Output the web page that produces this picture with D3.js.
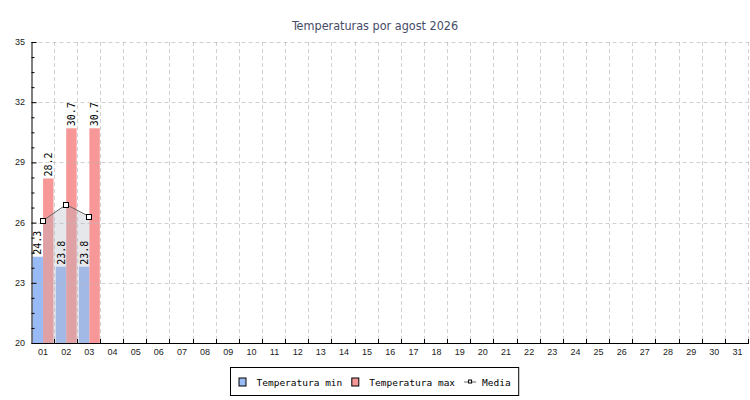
<!DOCTYPE html>
<html>
<head>
<meta charset="utf-8">
<script src="https://cdn.jsdelivr.net/npm/d3@7"></script>
<style>
	body { margin: 0; background: #fff; }
	svg { display: block; }
</style>
</head>
<body>
<div id="chart"></div>
<script>
	// Data
	const days = ['01', '02', '03', '04', '05', '06', '07', '08', '09', '10', '11', '12', '13', '14', '15', '16',
		'17', '18', '19', '20', '21', '22', '23', '24', '25', '26', '27', '28', '29', '30', '31'];
	const tempMin = [24.3, 23.8, 23.8];
	const tempMax = [28.2, 30.7, 30.7];
	const media = [26.1, 26.9, 26.3];
	const yTicks = [20, 23, 26, 29, 32, 35];
	const yMinor = [20.75, 21.5, 22.25, 23.75, 24.5, 25.25, 26.75, 27.5, 28.25, 29.75, 30.5, 31.25, 32.75, 33.5, 34.25];
	const seriesNames = ['Temperatura min', 'Temperatura max', 'Media'];

	const W = 750, H = 400;
	const margin = { top: 42, right: 1, bottom: 57, left: 31.5 };

	const colors = { min: '#99bbf5', max: '#f79797' };
	const monoFont = '"DejaVu Sans Mono", "Liberation Mono", monospace';
	const sansFont = '"Liberation Sans", "DejaVu Sans", sans-serif';

	const svg = d3.select('#chart')
		.append('svg')
		.attr('width', W)
		.attr('height', H);

	// Title
	svg.append('text')
		.attr('x', W / 2)
		.attr('y', 29.5)
		.attr('text-anchor', 'middle')
		.style('font-family', '"DejaVu Sans Condensed", "DejaVu Sans", sans-serif')
		.style('font-size', '12.5px')
		.style('fill', '#464c68')
		.text('Temperaturas por agost 2026');

	let xScale = d3.scaleBand()
		.domain(days)
		.range([margin.left, W - margin.right])
		.padding(0);

	let yScale = d3.scaleLinear()
		.domain([20, 35])
		.range([H - margin.bottom, margin.top]);

	let subScale = d3.scaleBand()
		.domain(['min', 'max'])
		.range([0, xScale.bandwidth()])
		.paddingInner(0)
		.paddingOuter(0.11);

	const base = yScale(20);

	// Bars
	let bars = svg.append('g').attr('class', 'bars');
	tempMin.forEach((v, i) => {
		let x0 = xScale(days[i]);
		bars.append('rect')
			.attr('x', x0 + subScale('min'))
			.attr('y', yScale(v))
			.attr('width', subScale.bandwidth())
			.attr('height', base - yScale(v))
			.style('fill', colors.min);
		bars.append('rect')
			.attr('x', x0 + subScale('max'))
			.attr('y', yScale(tempMax[i]))
			.attr('width', subScale.bandwidth())
			.attr('height', base - yScale(tempMax[i]))
			.style('fill', colors.max);
	});

	// Media area + line
	const mx = (d, i) => xScale(days[i]) + xScale.bandwidth() / 2;

	let area = d3.area()
		.x(mx)
		.y0(base)
		.y1(d => yScale(d));

	let line = d3.line()
		.x(mx)
		.y(d => yScale(d));

	svg.append('path')
		.datum(media)
		.attr('d', area)
		.style('fill', 'rgb(180,183,195)')
		.style('fill-opacity', 0.33);

	// Grid (drawn over the bars, as in the reference)
	let grid = svg.append('g').attr('class', 'grid')
		.style('stroke', '#b8b8b8')
		.style('stroke-opacity', 0.65)
		.style('stroke-dasharray', '4,3');

	grid.selectAll('line.h')
		.data(yTicks.slice(1))
		.enter()
		.append('line')
		.attr('x1', margin.left)
		.attr('x2', W - margin.right)
		.attr('y1', d => Math.round(yScale(d)) + 0.5)
		.attr('y2', d => Math.round(yScale(d)) + 0.5);

	grid.selectAll('line.v')
		.data(days)
		.enter()
		.append('line')
		.attr('x1', d => Math.round(xScale(d) + xScale.bandwidth()) - 0.5)
		.attr('x2', d => Math.round(xScale(d) + xScale.bandwidth()) - 0.5)
		.attr('y1', margin.top)
		.attr('y2', base);

	svg.append('path')
		.datum(media)
		.attr('d', line)
		.style('fill', 'none')
		.style('stroke', '#666')
		.style('stroke-width', 1);

	svg.selectAll('rect.marker')
		.data(media)
		.enter()
		.append('rect')
		.attr('class', 'marker')
		.attr('x', (d, i) => Math.round(mx(d, i)) - 2.5)
		.attr('y', d => Math.round(yScale(d)) - 2.5)
		.attr('width', 5)
		.attr('height', 5)
		.style('fill', '#fff')
		.style('stroke', '#000')
		.style('stroke-width', 1);

	// Value labels, rotated
	let labels = svg.append('g')
		.style('font-family', monoFont)
		.style('font-size', '10px')
		.style('fill', '#000');

	tempMin.forEach((v, i) => {
		let x0 = xScale(days[i]);
		[[v, 'min'], [tempMax[i], 'max']].forEach(([val, key]) => {
			let cx = x0 + subScale(key) + subScale.bandwidth() / 2;
			labels.append('text')
				.attr('transform', `translate(${cx + 3.5}, ${yScale(val) - 2}) rotate(-90)`)
				.text(val.toFixed(1));
		});
	});

	// Y axis
	let yAxis = svg.append('g')
		.attr('transform', `translate(${margin.left}, 0)`)
		.call(d3.axisRight(yScale).tickValues(yTicks).tickSize(5).tickFormat(''));
	yAxis.select('.domain').attr('d', `M0.5,${margin.top}V${base}`).style('stroke', '#000');
	yAxis.selectAll('.tick line').style('stroke', '#000');

	svg.append('g')
		.attr('transform', `translate(${margin.left}, 0)`)
		.call(d3.axisRight(yScale).tickValues(yMinor).tickSize(3).tickFormat(''))
		.call(g => g.select('.domain').remove())
		.selectAll('.tick line').style('stroke', '#000');

	svg.append('g')
		.selectAll('text')
		.data(yTicks)
		.enter()
		.append('text')
		.attr('x', 25)
		.attr('y', d => yScale(d) + 3)
		.attr('text-anchor', 'end')
		.style('font-family', sansFont)
		.style('font-size', '9px')
		.style('fill', '#222')
		.text(d => d);

	// X axis
	let xAxis = svg.append('g')
		.attr('transform', `translate(0, ${Math.round(base)})`)
		.call(d3.axisBottom(xScale).tickSize(0).tickPadding(6));
	xAxis.select('.domain').attr('d', `M${margin.left},0.5H${W - margin.right}`).style('stroke', '#000');
	xAxis.selectAll('text')
		.style('font-family', sansFont)
		.style('font-size', '9px')
		.style('fill', '#222');

	svg.append('g')
		.selectAll('line')
		.data(days)
		.enter()
		.append('line')
		.attr('x1', d => Math.round(xScale(d) + xScale.bandwidth()) - 0.5)
		.attr('x2', d => Math.round(xScale(d) + xScale.bandwidth()) - 0.5)
		.attr('y1', Math.round(base))
		.attr('y2', Math.round(base) - 4)
		.style('stroke', '#000');

	// Legend
	let legend = svg.append('g')
		.style('font-family', monoFont)
		.style('font-size', '9.5px');

	let box = legend.append('rect')
		.style('fill', '#fff')
		.style('stroke', '#000');

	let cursor = 0;
	let items = legend.append('g');
	seriesNames.forEach((name, i) => {
		let g = items.append('g').attr('transform', `translate(${cursor}, 0)`);
		let textX;
		if (i < 2) {
			g.append('rect')
				.attr('x', 0.5).attr('y', -7.5)
				.attr('width', 7).attr('height', 8)
				.style('fill', i === 0 ? colors.min : colors.max)
				.style('stroke', '#000');
			textX = 18;
		} else {
			g.append('line')
				.attr('x1', 0).attr('x2', 12)
				.attr('y1', -3.5).attr('y2', -3.5)
				.style('stroke', '#666');
			g.append('rect')
				.attr('x', 4.5).attr('y', -5.5)
				.attr('width', 3).attr('height', 3)
				.style('fill', '#fff')
				.style('stroke', '#000');
			textX = 18;
		}
		let t = g.append('text').attr('x', textX).attr('y', 0).text(name);
		cursor += textX + t.node().getComputedTextLength() + 9;
	});

	let itemsW = cursor - 9;
	let boxW = itemsW + 16;
	let boxX = Math.round(W / 2 - boxW / 2 - 0.5) + 0.5;
	box.attr('x', boxX).attr('y', 367.5).attr('width', boxW).attr('height', 28);
	items.attr('transform', `translate(${boxX + 8}, 385.5)`);
</script>
</body>
</html>
